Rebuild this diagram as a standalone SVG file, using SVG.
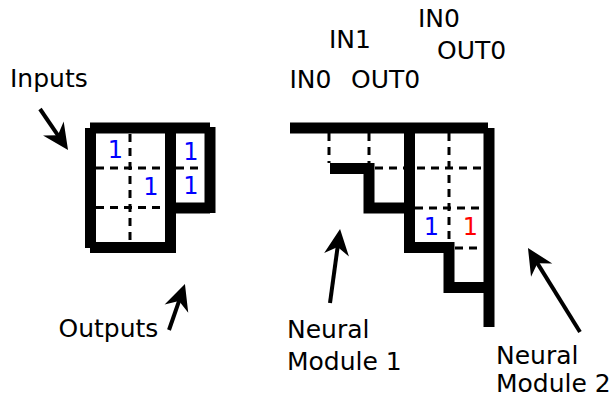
<svg xmlns="http://www.w3.org/2000/svg" width="613" height="398" viewBox="0 0 613 398">
<style>
.thick{stroke:#000;stroke-width:11;fill:none;stroke-linecap:butt;stroke-linejoin:miter}
.dash{stroke:#000;stroke-width:3;fill:none;stroke-dasharray:8 6}
.lbl{font-family:"DejaVu Sans",sans-serif;font-size:25px;fill:#000}
.num{font-family:"DejaVu Sans",sans-serif;font-size:24px;text-anchor:middle}
.blue{fill:#0000ff}
.red{fill:#ff0000}
.arrow{stroke:#000;stroke-width:4;fill:none;marker-end:url(#ah)}
</style>
<defs>
<marker id="ah" markerUnits="userSpaceOnUse" orient="auto" viewBox="-12 -14 30 28" refX="0" refY="0" markerWidth="30" markerHeight="28" overflow="visible">
<path d="M16,0 L-10,-12.5 L-2,0 L-10,12.5 Z" fill="#000"/>
</marker>
</defs>
<rect width="613" height="398" fill="#fff"/>

<g id="left-matrix">
<line class="dash" x1="130" y1="134" x2="130" y2="242"/>
<line class="dash" x1="96" y1="168" x2="165" y2="168"/>
<line class="dash" x1="176" y1="168" x2="204" y2="168"/>
<line class="dash" x1="96" y1="207.5" x2="165" y2="207.5"/>
<line class="thick" x1="90" y1="128" x2="210" y2="128"/>
<line class="thick" x1="90.5" y1="128" x2="90.5" y2="248"/>
<line class="thick" x1="90" y1="247.5" x2="170" y2="247.5"/>
<line class="thick" x1="170.5" y1="128" x2="170.5" y2="253"/>
<line class="thick" x1="170" y1="208" x2="210" y2="208"/>
<line class="thick" x1="210" y1="127" x2="210" y2="213"/>
<text class="num blue" x="115.5" y="157.5">1</text>
<text class="num blue" x="151" y="195">1</text>
<text class="num blue" x="191" y="160">1</text>
<text class="num blue" x="191" y="194">1</text>
</g>

<g id="neural-module-1">
<line class="dash" x1="329" y1="133" x2="329" y2="163"/>
<line class="dash" x1="369" y1="133" x2="369" y2="163"/>
<polyline class="thick" points="330,168.5 369,168.5 369,208 409.5,208"/>
</g>

<g id="neural-module-2">
<line class="dash" x1="449" y1="133" x2="449" y2="247"/>
<line class="dash" x1="375" y1="168" x2="483" y2="168"/>
<line class="dash" x1="415" y1="208" x2="483" y2="208"/>
<line class="dash" x1="455" y1="248" x2="483" y2="248"/>
<line class="thick" x1="290" y1="128" x2="488" y2="128"/>
<line class="thick" x1="489" y1="128" x2="489" y2="327"/>
<polyline class="thick" points="409.5,128 409.5,247.5 449,247.5 449,287.5 489,287.5"/>
<text class="num blue" x="431.5" y="235">1</text>
<text class="num red" x="470.5" y="235">1</text>
</g>

<g id="io-labels">
<text class="lbl" x="289.5" y="88">IN0</text>
<text class="lbl" x="351" y="88">OUT0</text>
<text class="lbl" x="329" y="48">IN1</text>
<text class="lbl" x="418" y="27">IN0</text>
<text class="lbl" x="437" y="59">OUT0</text>
</g>

<g id="labels">
<text class="lbl" x="10" y="87">Inputs</text>
<text class="lbl" x="58.5" y="337">Outputs</text>
<text class="lbl" x="287" y="338">Neural</text>
<text class="lbl" x="287" y="370">Module 1</text>
<text class="lbl" x="496" y="364">Neural</text>
<text class="lbl" x="496" y="392">Module 2</text>
</g>

<g id="connectors">
<line class="arrow" x1="40" y1="109" x2="59" y2="136.8"/>
<line class="arrow" x1="169" y1="330" x2="179.7" y2="299.1"/>
<line class="arrow" x1="330" y1="303" x2="337.9" y2="244.9"/>
<line class="arrow" x1="580" y1="332" x2="536.4" y2="261.6"/>
</g>
</svg>
